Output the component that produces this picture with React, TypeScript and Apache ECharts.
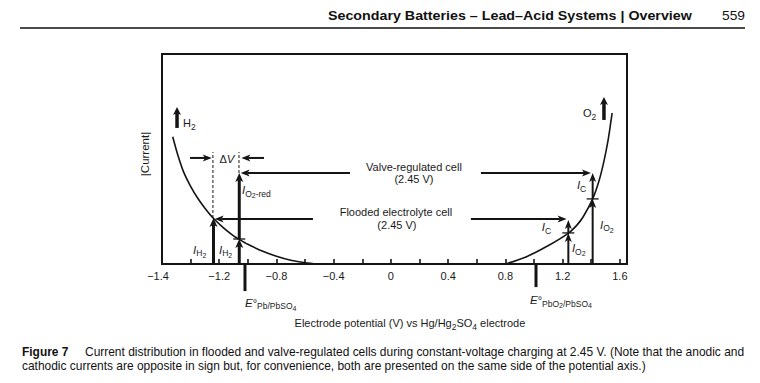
import React, { useEffect, useRef } from 'react';
import * as echarts from 'echarts';

const FONT = '"Liberation Sans", Arial, Helvetica, sans-serif';
const INK = '#141414';

// ---------------- data ----------------
const tickValues = [-1.6, -1.2, -0.8, -0.4, 0, 0.4, 0.8, 1.2, 1.6];
const tickLabels = ['\u22121.4', '\u22121.2', '\u22120.8', '\u22120.4', '0', '0.4', '0.8', '1.2', '1.6'];

// cathodic (H2 evolution) branch
const cathodicX = [-1.525, -1.49, -1.45, -1.4, -1.35, -1.3, -1.241, -1.17, -1.1, -1.06, -1.0, -0.9, -0.8, -0.7, -0.6, -0.508];
const cathodicY = [0.606, 0.52, 0.44, 0.37, 0.313, 0.266, 0.218, 0.172, 0.134, 0.117, 0.094, 0.062, 0.037, 0.018, 0.006, 0];

// anodic (O2 evolution) branch
const anodicX = [0.8, 0.948, 1.088, 1.239, 1.3, 1.344, 1.41, 1.454, 1.489, 1.517, 1.538, 1.546];
const anodicY = [0, 0.035, 0.083, 0.146, 0.185, 0.225, 0.31, 0.395, 0.49, 0.586, 0.681, 0.719];

// current arrows [x1, y1, x2, y2]
const cathodeArrows = [
  [-1.24, 0, -1.24, 0.219],
  [-1.06, 0, -1.06, 0.119],
  [-1.06, 0.119, -1.06, 0.433],
];
const anodeArrows = [
  [1.24, 0, 1.24, 0.148],
  [1.24, 0.148, 1.24, 0.21],
  [1.41, 0, 1.41, 0.31],
  [1.41, 0.31, 1.41, 0.433],
];
const gasArrows = [
  [-1.495, 0.648, -1.495, 0.748],
  [1.489, 0.686, 1.489, 0.795],
];
const pointerArrows = [
  [-0.286, 0.433, -1.05, 0.433],
  [0.629, 0.433, 1.398, 0.433],
  [-0.545, 0.214, -1.232, 0.214],
  [0.559, 0.214, 1.228, 0.214],
  [-1.404, 0.505, -1.252, 0.505],
  [-0.887, 0.505, -1.045, 0.505],
];
const splitMarks = [
  [-1.06, 0.119],
  [1.24, 0.148],
  [1.41, 0.31],
];
const dashedGuides = [
  [-1.244, 0.219, -1.244, 0.533],
  [-1.062, 0.433, -1.062, 0.533],
];
const potentialMarks = [
  [-1.02, 0, -1.02, -0.129],
  [1.014, 0, 1.014, -0.11],
];

type Piece = [string, 'n' | 'i' | 's' | 'ss'];
const annotationText: Piece[][] = [
  [['I', 'i'], ['H', 's'], ['2', 'ss']],
  [['I', 'i'], ['H', 's'], ['2', 'ss']],
  [['I', 'i'], ['O', 's'], ['2', 'ss'], ['-red', 's']],
  [['\u0394', 'n'], ['V', 'i']],
  [['I', 'i'], ['C', 's']],
  [['I', 'i'], ['O', 's'], ['2', 'ss']],
  [['I', 'i'], ['C', 's']],
  [['I', 'i'], ['O', 's'], ['2', 'ss']],
  [['H', 'n'], ['2', 's']],
  [['O', 'n'], ['2', 's']],
  [['E', 'i'], ['\u00b0', 'n'], ['Pb/PbSO', 's'], ['4', 'ss']],
  [['E', 'i'], ['\u00b0', 'n'], ['PbO', 's'], ['2', 'ss'], ['/PbSO', 's'], ['4', 'ss']],
  [['Valve-regulated cell', 'n']],
  [['(2.45 V)', 'n']],
  [['Flooded electrolyte cell', 'n']],
  [['(2.45 V)', 'n']],
  [['Electrode potential (V) vs Hg/Hg', 'n'], ['2', 's'], ['SO', 'n'], ['4', 's'], [' electrode', 'n']],
];
const annotationAt: [number, number][] = [
  [-1.383, 0.067],
  [-1.202, 0.067],
  [-1.041, 0.352],
  [-1.146, 0.5],
  [1.055, 0.176],
  [1.265, 0.076],
  [1.3, 0.376],
  [1.461, 0.186],
  [-1.453, 0.671],
  [1.342, 0.719],
  [-1.02, -0.184],
  [0.972, -0.172],
  [0.161, 0.462],
  [0.161, 0.405],
  [0.035, 0.248],
  [0.042, 0.186],
  [0.133, -0.281],
];
const annotationAlign = ['l', 'l', 'l', 'c', 'l', 'l', 'l', 'l', 'l', 'l', 'l', 'l', 'c', 'c', 'c', 'c', 'c'];

const headerText = 'Secondary Batteries \u2013 Lead\u2013Acid Systems | Overview';
const pageNumber = '559';
const yAxisTitle = '|Current|';
const captionLabel = 'Figure 7';
const captionLine1 = 'Current distribution in flooded and valve-regulated cells during constant-voltage charging at 2.45 V. (Note that the anodic and';
const captionLine2 = 'cathodic currents are opposite in sign but, for convenience, both are presented on the same side of the potential axis.)';

// ---------------- helpers ----------------
const PIECE: Record<string, { size: number; style: string; dy: number }> = {
  n: { size: 11, style: 'normal', dy: 0 },
  i: { size: 11.5, style: 'italic', dy: 0 },
  s: { size: 8.5, style: 'normal', dy: 3.5 },
  ss: { size: 7, style: 'normal', dy: 5.5 },
};

let measureCtx: CanvasRenderingContext2D | null = null;
function measure(text: string, font: string): number {
  if (!measureCtx) measureCtx = document.createElement('canvas').getContext('2d');
  if (!measureCtx) return text.length * 6;
  measureCtx.font = font;
  return measureCtx.measureText(text).width;
}
function pieceFont(k: string, weight = 'normal') {
  const p = PIECE[k];
  return `${p.style} ${weight} ${p.size}px ${FONT}`;
}

const arrowRenderer = (shaft: number, headLen: number, headWid: number) => (_p: any, api: any) => {
  const a = api.coord([api.value(0), api.value(1)]);
  const b = api.coord([api.value(2), api.value(3)]);
  const dx = b[0] - a[0];
  const dy = b[1] - a[1];
  const len = Math.hypot(dx, dy) || 1;
  const ux = dx / len, uy = dy / len, nx = -uy, ny = ux;
  const bx = b[0] - ux * headLen, by = b[1] - uy * headLen;
  const notch = headLen * 0.25;
  return {
    type: 'group',
    children: [
      {
        type: 'line',
        shape: { x1: a[0], y1: a[1], x2: bx + ux * notch, y2: by + uy * notch },
        style: { stroke: INK, lineWidth: shaft },
      },
      {
        type: 'polygon',
        shape: {
          points: [
            [b[0], b[1]],
            [bx + (nx * headWid) / 2, by + (ny * headWid) / 2],
            [bx + ux * notch, by + uy * notch],
            [bx - (nx * headWid) / 2, by - (ny * headWid) / 2],
          ],
        },
        style: { fill: INK },
      },
    ],
  };
};

const segmentRenderer = (width: number, dash?: number[]) => (_p: any, api: any) => {
  const a = api.coord([api.value(0), api.value(1)]);
  const b = api.coord([api.value(2), api.value(3)]);
  return {
    type: 'line',
    shape: { x1: a[0], y1: a[1], x2: b[0], y2: b[1] },
    style: { stroke: INK, lineWidth: width, lineDash: dash || null },
  };
};

const markRenderer = (_p: any, api: any) => {
  const a = api.coord([api.value(0), api.value(1)]);
  return {
    type: 'line',
    shape: { x1: a[0] - 6, y1: a[1], x2: a[0] + 6, y2: a[1] },
    style: { stroke: INK, lineWidth: 1.3 },
  };
};

const labelRenderer = (params: any, api: any) => {
  const idx = params.dataIndex;
  const pieces = annotationText[idx];
  const at = api.coord([api.value(0), api.value(1)]);
  const widths = pieces.map(([t, k]) => measure(t, pieceFont(k)));
  const total = widths.reduce((s, w) => s + w, 0);
  let x = annotationAlign[idx] === 'c' ? at[0] - total / 2 : at[0];
  const children: any[] = [];
  pieces.forEach(([t, k], i) => {
    const p = PIECE[k];
    children.push({
      type: 'text',
      x,
      y: at[1] + p.dy,
      style: {
        text: t,
        fontSize: p.size,
        fontStyle: p.style,
        fontFamily: FONT,
        fill: '#1a1a1a',
        align: 'left',
        verticalAlign: 'middle',
      },
    });
    x += widths[i];
  });
  return { type: 'group', children };
};

export default function App() {
  const ref = useRef<HTMLDivElement>(null);

  useEffect(() => {
    if (!ref.current) return;
    const chart = echarts.init(ref.current, undefined, { renderer: 'svg' });

    const headFont = `normal bold 12.5px ${FONT}`;
    const headScale = 364 / measure(headerText, headFont);
    const pageFont = `normal normal 12.5px ${FONT}`;
    const pageScale = 23 / measure(pageNumber, pageFont);
    const capFont = `normal normal 12.5px ${FONT}`;
    const capBold = `normal bold 12.5px ${FONT}`;
    const capScale = 660 / measure(captionLine1, capFont);

    const curveStyle = { color: INK, width: 1.6 };

    const option: any = {
      animation: false,
      backgroundColor: '#ffffff',
      grid: {
        left: 162,
        top: 54,
        width: 465,
        height: 210,
        show: true,
        borderColor: INK,
        borderWidth: 2,
        backgroundColor: 'transparent',
      },
      xAxis: {
        type: 'value',
        min: -1.6,
        max: 1.65,
        interval: 0.2,
        axisLine: { show: true, onZero: false, lineStyle: { color: INK, width: 2 } },
        axisTick: { show: true, inside: true, length: 5, lineStyle: { color: INK, width: 1.6 } },
        axisLabel: {
          margin: 6,
          fontSize: 11,
          fontFamily: FONT,
          color: '#1a1a1a',
          formatter: (v: number) => {
            const i = tickValues.findIndex((t) => Math.abs(t - v) < 1e-6);
            if (i < 0) return '';
            return i === 0 ? `{edge|${tickLabels[i]}}` : tickLabels[i];
          },
          rich: {
            edge: { fontSize: 11, fontFamily: FONT, color: '#1a1a1a', padding: [0, 8, 0, 0] },
          },
        },
        splitLine: { show: false },
      },
      yAxis: { type: 'value', min: 0, max: 1, show: false },
      series: [
        {
          type: 'line',
          data: cathodicX.map((x, i) => [x, cathodicY[i]]),
          smooth: 0.3,
          showSymbol: false,
          symbol: 'none',
          lineStyle: curveStyle,
          silent: true,
        },
        {
          type: 'line',
          data: anodicX.map((x, i) => [x, anodicY[i]]),
          smooth: 0.3,
          showSymbol: false,
          symbol: 'none',
          lineStyle: curveStyle,
          silent: true,
        },
        {
          type: 'custom',
          data: dashedGuides,
          encode: { x: [0, 2], y: [1, 3] },
          renderItem: segmentRenderer(1, [3, 2]),
          clip: false,
          silent: true,
        },
        {
          type: 'custom',
          data: potentialMarks,
          encode: { x: [0, 2], y: [1, 3] },
          renderItem: segmentRenderer(3),
          clip: false,
          silent: true,
        },
        {
          type: 'custom',
          data: cathodeArrows,
          encode: { x: [0, 2], y: [1, 3] },
          renderItem: arrowRenderer(3, 9, 8),
          clip: false,
          silent: true,
        },
        {
          type: 'custom',
          data: anodeArrows,
          encode: { x: [0, 2], y: [1, 3] },
          renderItem: arrowRenderer(2, 9, 7),
          clip: false,
          silent: true,
        },
        {
          type: 'custom',
          data: gasArrows,
          encode: { x: [0, 2], y: [1, 3] },
          renderItem: arrowRenderer(3.5, 8, 8),
          clip: false,
          silent: true,
        },
        {
          type: 'custom',
          data: pointerArrows,
          encode: { x: [0, 2], y: [1, 3] },
          renderItem: arrowRenderer(2, 9, 7),
          clip: false,
          silent: true,
        },
        {
          type: 'custom',
          data: splitMarks,
          encode: { x: 0, y: 1 },
          renderItem: markRenderer,
          clip: false,
          silent: true,
        },
        {
          type: 'custom',
          data: annotationAt,
          encode: { x: 0, y: 1 },
          renderItem: labelRenderer,
          clip: false,
          silent: true,
        },
      ],
      graphic: [
        {
          type: 'text',
          x: 328,
          y: 16,
          scaleX: headScale,
          style: { text: headerText, font: headFont, fill: '#111', align: 'left', verticalAlign: 'middle' },
        },
        {
          type: 'text',
          x: 722,
          y: 16,
          scaleX: pageScale,
          style: { text: pageNumber, font: pageFont, fill: '#111', align: 'left', verticalAlign: 'middle' },
        },
        {
          type: 'line',
          shape: { x1: 20, y1: 28, x2: 745, y2: 28 },
          style: { stroke: '#111', lineWidth: 1.5 },
        },
        {
          type: 'text',
          x: 145,
          y: 154,
          rotation: Math.PI / 2,
          style: { text: yAxisTitle, font: `normal normal 11.5px ${FONT}`, fill: '#1a1a1a', align: 'center', verticalAlign: 'middle' },
        },
        {
          type: 'text',
          x: 22,
          y: 352,
          scaleX: capScale,
          style: { text: captionLabel, font: capBold, fill: '#111', align: 'left', verticalAlign: 'middle' },
        },
        {
          type: 'text',
          x: 85,
          y: 352,
          scaleX: capScale,
          style: { text: captionLine1, font: capFont, fill: '#111', align: 'left', verticalAlign: 'middle' },
        },
        {
          type: 'text',
          x: 22,
          y: 366,
          scaleX: capScale,
          style: { text: captionLine2, font: capFont, fill: '#111', align: 'left', verticalAlign: 'middle' },
        },
      ],
    };

    chart.setOption(option);
    return () => chart.dispose();
  }, []);

  return (
    <div
      ref={ref}
      style={{ position: 'fixed', left: 0, top: 0, width: 760, height: 383, background: '#fff' }}
    />
  );
}
